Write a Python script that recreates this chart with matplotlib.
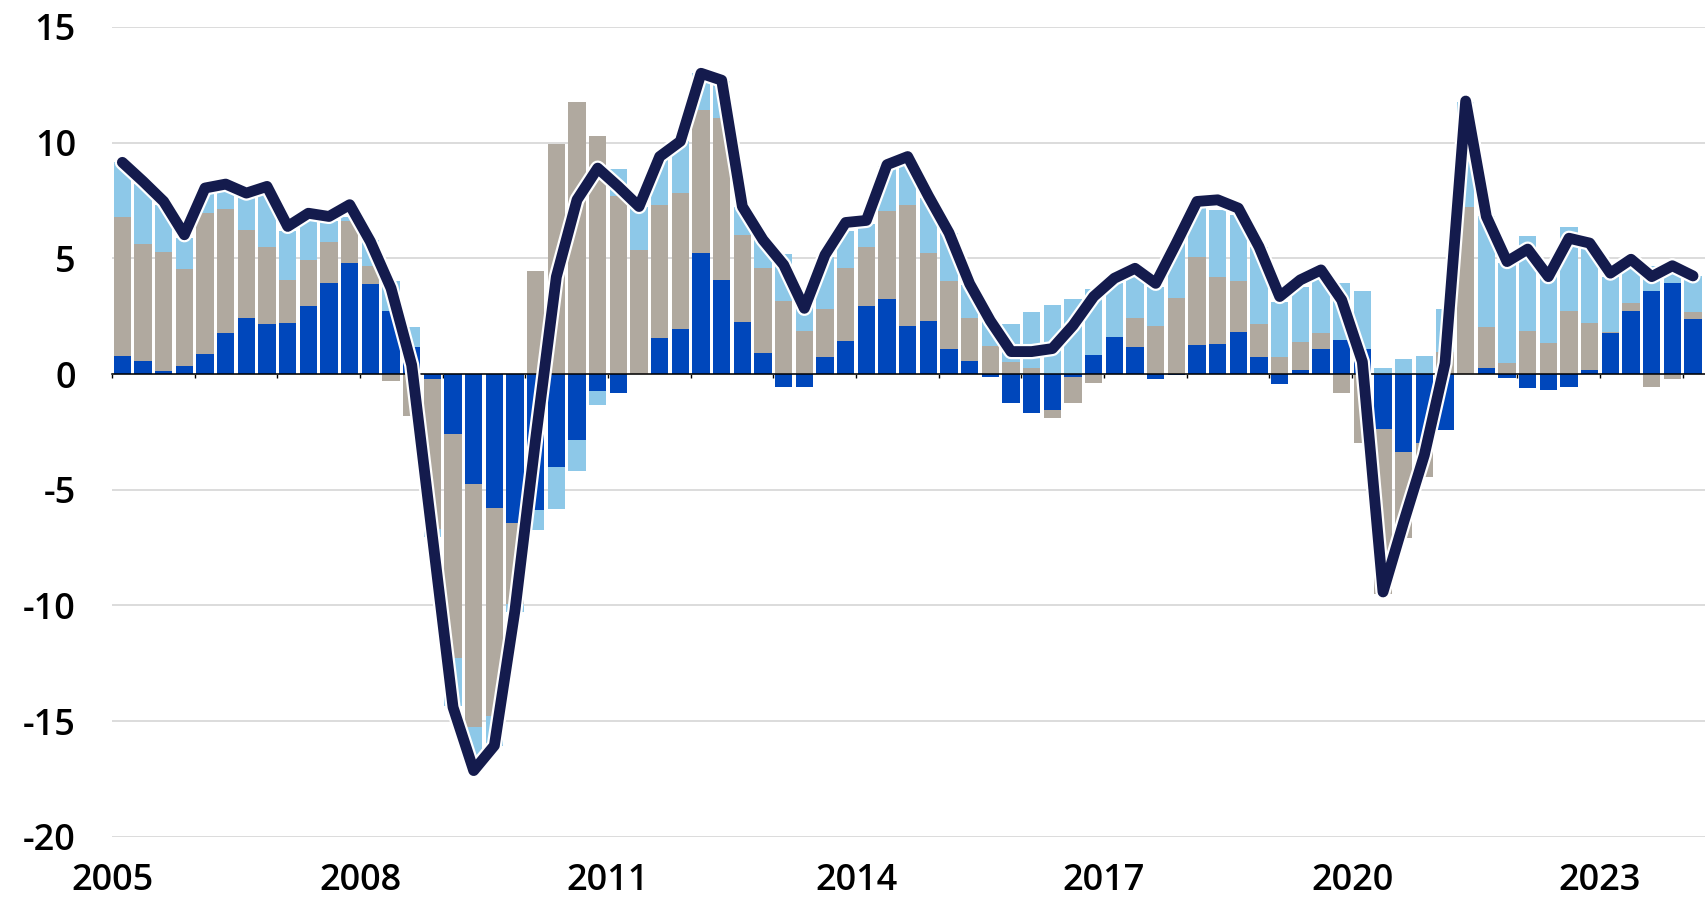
import numpy as np
import matplotlib
matplotlib.use("Agg")
import matplotlib.pyplot as plt
import matplotlib.patheffects as pe

# quarterly data, 2005Q1 .. 2024Q1
quarters = [f"{y}Q{q}" for y in range(2005, 2025) for q in range(1, 5)][:77]

blue = [0.78, 0.58, 0.14, 0.33, 0.87, 1.79, 2.41, 2.18, 2.21, 2.96, 3.94, 4.81, 3.87, 2.73, 1.17, -0.23,
        -2.6, -4.76, -5.77, -6.42, -5.89, -4.02, -2.86, -0.72, -0.81, 0.0, 1.57, 1.95, 5.24, 4.07, 2.24, 0.91,
        -0.58, -0.58, 0.74, 1.41, 2.96, 3.25, 2.08, 2.28, 1.08, 0.56, -0.14, -1.27, -1.7, -1.56, -0.14, 0.82,
        1.6, 1.17, -0.22, -0.05, 1.24, 1.3, 1.83, 0.75, -0.43, 0.17, 1.08, 1.49, 1.08, -2.38, -3.38, -3.0,
        -2.42, 0.0, 0.27, -0.19, -0.62, -0.69, -0.58, 0.17, 1.76, 2.74, 3.59, 3.93, 2.37]
grey = [5.99, 5.02, 5.14, 4.23, 6.11, 5.34, 3.82, 3.33, 1.86, 1.95, 1.75, 1.8, 0.82, -0.29, -1.82, -6.45,
        -9.67, -10.48, -9.03, -3.51, 4.46, 9.94, 11.76, 10.3, 7.7, 5.37, 5.75, 5.87, 6.19, 7.0, 3.78, 3.66,
        3.16, 1.88, 2.07, 3.16, 2.55, 3.78, 5.24, 2.96, 2.95, 1.88, 1.21, 0.5, 0.27, -0.33, -1.1, -0.4,
        0.0, 1.27, 2.08, 3.28, 3.8, 2.91, 2.17, 1.41, 0.75, 1.23, 0.71, -0.81, -3.0, -7.12, -3.69, -1.45,
        0.97, 7.2, 1.76, 0.49, 1.86, 1.36, 2.74, 2.05, 0.07, 0.35, -0.58, -0.23, 0.29]
light = [2.38, 2.6, 2.02, 1.34, 0.97, 0.87, 1.37, 2.49, 2.13, 1.69, 0.91, 0.19, 1.11, 1.3, 0.86, -0.36,
         -2.06, -1.76, -1.26, -0.36, -0.87, -1.82, -1.33, -0.62, 1.16, 1.87, 2.08, 2.24, 1.57, 1.59, 1.22, 1.23,
         2.03, 1.02, 2.27, 1.63, 0.99, 1.97, 1.98, 2.36, 2.07, 1.41, 1.13, 1.66, 2.39, 2.99, 3.23, 2.85,
         2.32, 1.86, 1.7, 2.38, 2.26, 2.89, 2.88, 3.35, 2.38, 2.38, 2.41, 2.46, 2.51, 0.25, 0.66, 0.78,
         1.84, 4.56, 4.81, 4.3, 4.09, 3.0, 3.61, 3.36, 2.38, 1.7, 1.06, 0.86, 1.58]
total = [9.15, 8.33, 7.46, 6.02, 8.04, 8.21, 7.82, 8.11, 6.38, 6.95, 6.81, 7.32, 5.73, 3.71, 0.39, -7.0,
         -14.4, -17.14, -16.06, -10.2, -2.8, 4.2, 7.53, 8.9, 8.1, 7.24, 9.4, 10.06, 13.0, 12.7, 7.24, 5.8,
         4.72, 2.84, 5.15, 6.55, 6.64, 9.05, 9.4, 7.7, 6.1, 3.9, 2.3, 0.97, 0.97, 1.1, 2.1, 3.35,
         4.14, 4.57, 3.92, 5.66, 7.46, 7.53, 7.17, 5.5, 3.35, 4.07, 4.5, 3.2, 0.53, -9.42, -6.4, -3.5,
         0.46, 11.8, 6.81, 4.86, 5.4, 4.21, 5.87, 5.66, 4.36, 4.96, 4.21, 4.68, 4.24]

year_labels = ["2005", "2008", "2011", "2014", "2017", "2020", "2023"]
y_ticks = [15, 10, 5, 0, -5, -10, -15, -20]

c_blue = "#0047BB"
c_grey = "#B0A99F"
c_light = "#8DC8E8"
c_navy = "#141B4D"

x = np.array([int(q[:4]) + (int(q[-1]) - 0.5) / 4 for q in quarters])

plt.rcParams['font.family'] = ['Open Sans', 'DejaVu Sans']
fig = plt.figure(figsize=(17.05, 9), dpi=100)
ax = fig.add_axes([0.0657, 0.0703, 0.9343, 0.8997])

pos = np.zeros(len(x))
neg = np.zeros(len(x))
for vals, col in [(blue, c_blue), (grey, c_grey), (light, c_light)]:
    v = np.array(vals)
    bottom = np.where(v >= 0, pos, neg)
    ax.bar(x, v, width=0.21, bottom=bottom, color=col, linewidth=0, zorder=2)
    pos += np.clip(v, 0, None)
    neg += np.clip(v, None, 0)

ax.plot(x, total, color=c_navy, lw=7.8, solid_joinstyle='round', solid_capstyle='round', zorder=4,
        path_effects=[pe.Stroke(linewidth=11, foreground='white'), pe.Normal()])

ax.set_xlim(2005, 2024.27)
ax.set_ylim(-20, 15)
ax.set_yticks(y_ticks)
ax.set_yticklabels([str(t) for t in y_ticks])
ax.grid(axis='y', color='#D9D9D9', lw=1.3, zorder=0)
ax.set_axisbelow(True)
for s in ['top', 'right', 'left']:
    ax.spines[s].set_visible(False)
ax.spines['bottom'].set_position(('data', 0))
ax.spines['bottom'].set_color('black')
ax.spines['bottom'].set_linewidth(1.1)
ax.spines['bottom'].set_zorder(3)
ax.set_xticks(np.arange(2005, 2025))
ax.tick_params(axis='x', length=3, width=1, color='black', labelbottom=False)
ax.tick_params(axis='y', length=0, pad=26, labelsize=26)
for t in ax.get_yticklabels():
    t.set_fontweight('semibold')

sec = ax.secondary_xaxis(0)
sec.set_xticks([int(y) for y in year_labels])
sec.set_xticklabels(year_labels, fontweight='semibold')
sec.tick_params(length=0, pad=19, labelsize=26)
sec.spines['bottom'].set_visible(False)

fig.savefig("out.png", dpi=100, facecolor='white')
